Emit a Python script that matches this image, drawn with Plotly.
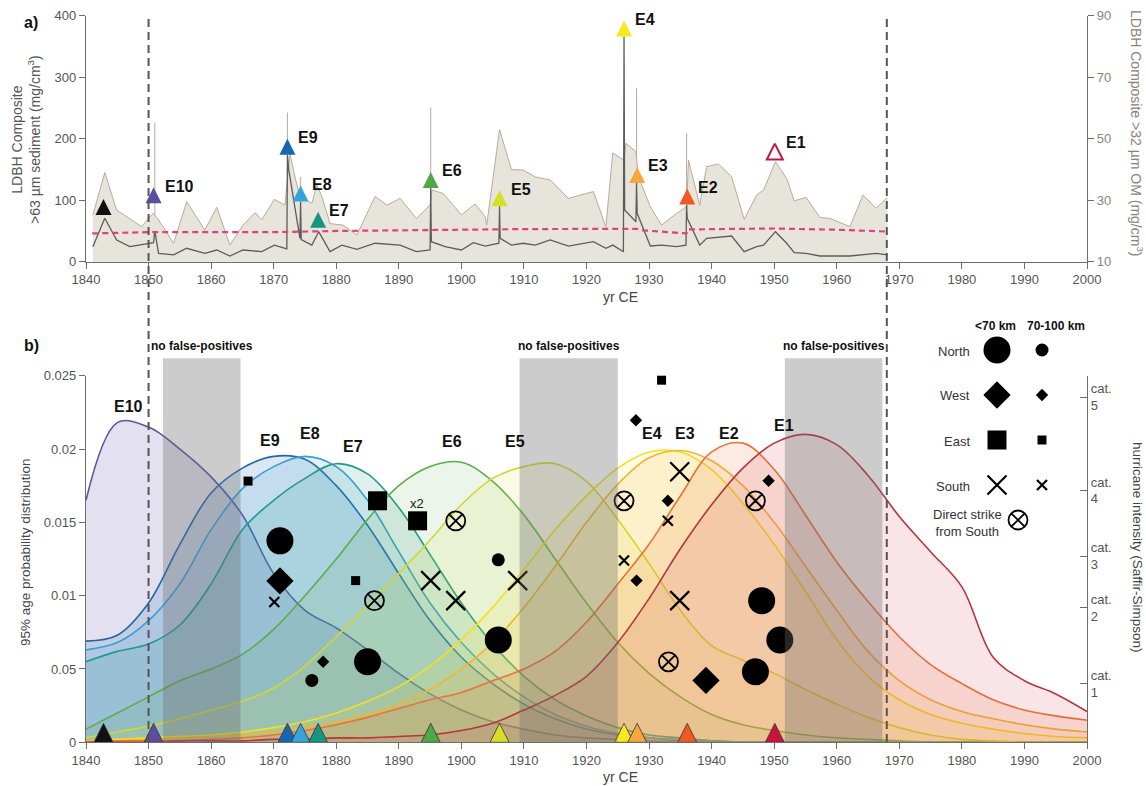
import plotly.graph_objects as go
import numpy as np

W, H = 1146, 786
FONT = "Liberation Sans, Arial, sans-serif"

# ---------------- panel a) data ----------------
om_years = [1841.1, 1843.0, 1844.9, 1848.9, 1850.0, 1850.7, 1851.6, 1854.0, 1856.1, 1859.0,
            1860.9, 1863.0, 1865.1, 1867.0, 1868.1, 1870.1, 1871.8, 1872.6, 1873.4, 1874.2,
            1876.1, 1876.9, 1877.7, 1879.0, 1881.1, 1883.3, 1886.2, 1888.1, 1890.2, 1892.8,
            1895.0, 1895.3, 1897.1, 1900.0, 1902.2, 1903.8, 1904.05, 1906.1, 1908.0, 1909.9,
            1911.8, 1914.2, 1917.1, 1919.0, 1921.1, 1923.1, 1924.2, 1926.0, 1926.3, 1927.9,
            1928.3, 1930.2, 1932.0, 1934.4, 1936.0, 1936.3, 1937.3, 1938.1, 1939.2, 1941.1,
            1943.2, 1945.2, 1947.2, 1948.3, 1950.2, 1952.0, 1953.2, 1955.1, 1957.3, 1958.9,
            1962.1, 1964.2, 1966.3, 1968.1]
om_vals = [25.2, 39.0, 26.8, 21.4, 24.1, 25.7, 23.6, 16.0, 29.5, 20.3,
           27.7, 15.4, 21.9, 25.9, 23.6, 30.3, 28.4, 45.2, 37.6, 31.2,
           29.0, 35.0, 31.2, 22.4, 21.9, 18.7, 31.2, 28.4, 30.6, 24.1,
           28.4, 33.3, 32.2, 25.2, 28.8, 24.6, 21.9, 53.0, 40.0, 39.8,
           37.6, 36.6, 30.6, 31.7, 32.8, 21.4, 45.4, 43.0, 48.5, 45.8,
           37.6, 27.9, 21.9, 25.7, 27.9, 43.0, 35.4, 28.4, 40.9, 41.8,
           37.6, 23.8, 31.7, 33.3, 42.5, 37.1, 29.8, 30.9, 24.4, 24.1,
           21.4, 31.7, 27.4, 30.9]
om_spike_years = [1851.0, 1872.2, 1874.3, 1895.1, 1928.0, 1936.0]
om_spike_tops = [55.2, 58.5, 37.6, 60.2, 66.4, 51.8]

sed_years = [1841.1, 1843.0, 1844.9, 1847.0, 1850.8, 1851.0, 1851.6, 1854.0, 1856.1, 1859.0,
             1860.9, 1863.0, 1865.1, 1868.1, 1870.1, 1872.1, 1872.2, 1872.4, 1874.2, 1874.3,
             1874.4, 1876.1, 1877.2, 1879.0, 1880.9, 1883.3, 1886.2, 1890.2, 1892.8, 1895.0,
             1895.1, 1895.2, 1897.4, 1900.0, 1901.9, 1903.8, 1906.0, 1906.1, 1906.2, 1908.0,
             1909.9, 1911.8, 1914.2, 1917.1, 1921.1, 1923.1, 1924.2, 1925.9, 1926.0, 1926.1,
             1927.9, 1928.0, 1928.1, 1930.2, 1932.0, 1934.4, 1935.9, 1936.0, 1936.1, 1938.1,
             1939.2, 1943.2, 1945.2, 1947.2, 1948.3, 1950.2, 1952.0, 1953.2, 1955.1, 1957.3,
             1962.1, 1964.2, 1966.3, 1968.1]
sed_vals = [24.4, 70.6, 35.3, 24.4, 31.0, 50.0, 13.6, 11.0, 21.8, 13.6,
            19.0, 9.3, 19.0, 16.3, 27.0, 21.0, 174.0, 150.0, 38.0, 98.0,
            36.0, 27.0, 48.8, 16.3, 27.0, 20.0, 30.0, 27.0, 16.3, 19.0,
            120.0, 32.5, 24.4, 19.0, 31.0, 25.5, 30.0, 90.0, 38.0, 27.0,
            30.0, 27.0, 35.3, 25.5, 32.5, 21.8, 27.0, 16.3, 366.0, 84.0,
            65.0, 128.0, 78.7, 25.5, 27.0, 24.4, 27.0, 92.0, 70.6, 27.0,
            38.0, 41.8, 16.3, 24.4, 27.0, 48.8, 30.0, 14.6, 13.6, 9.3,
            9.3, 11.0, 13.6, 11.0]

thr_years = [1841, 1850, 1860, 1870, 1880, 1890, 1900, 1910, 1920, 1926, 1928, 1929,
             1936, 1936.2, 1945, 1950, 1960, 1968]
thr_vals = [46, 48, 48, 48, 50, 51.5, 52, 53, 53, 54, 53.5, 51,
            46, 52.5, 53, 54, 52, 49]

event_names = ["", "E10", "E9", "E8", "E7", "E6", "E5", "E4", "E3", "E2", "E1"]
event_years = [1842.8, 1850.8, 1872.2, 1874.3, 1877.1, 1895.1, 1906.1, 1926.0, 1928.1, 1936.1, 1950.1]
event_top_base = [76, 95, 174, 98, 55, 120, 90, 366, 128, 93, 166]
event_colors = ["#111111", "#5b4ea0", "#1766b2", "#36a4dc", "#17967e", "#4fa846",
                "#d8de24", "#f7e91c", "#f8a83a", "#f05a22", "#c8143c"]
event_open_top = [False] * 10 + [True]

# ---------------- panel b) data ----------------
pdf_years = list(range(1840, 2001, 5))
e10_pdf = [0.0165, 0.0218, 0.0215, 0.0200, 0.0181, 0.0155, 0.0115, 0.0090, 0.0078, 0.0063, 0.0047,
           0.0033, 0.0022, 0.0014, 0.0009, 0.0005, 0.0003, 0.0002, 0.0001, 0, 0, 0, 0, 0, 0, 0, 0,
           0, 0, 0, 0, 0, 0]
e9_pdf = [0.0069, 0.0073, 0.0095, 0.0135, 0.0170, 0.0187, 0.0195, 0.0193, 0.0175, 0.0148, 0.0115,
          0.0083, 0.0058, 0.0040, 0.0026, 0.0016, 0.0009, 0.0005, 0.0003, 0.0001, 0.0001, 0, 0, 0,
          0, 0, 0, 0, 0, 0, 0, 0, 0]
e8_pdf = [0.0063, 0.0068, 0.0083, 0.0108, 0.0145, 0.0173, 0.0188, 0.0195, 0.0188, 0.0165, 0.0130,
          0.0095, 0.0068, 0.0047, 0.0031, 0.0019, 0.0011, 0.0006, 0.0003, 0.0002, 0.0001, 0, 0, 0,
          0, 0, 0, 0, 0, 0, 0, 0, 0]
e7_pdf = [0.0055, 0.0062, 0.0067, 0.0080, 0.0108, 0.0145, 0.0165, 0.0180, 0.0190, 0.0183, 0.0160,
          0.0128, 0.0095, 0.0067, 0.0045, 0.0029, 0.0018, 0.0010, 0.0005, 0.0003, 0.0001, 0, 0, 0,
          0, 0, 0, 0, 0, 0, 0, 0, 0]
e6_pdf = [0.0009, 0.0020, 0.0031, 0.0042, 0.0050, 0.0060, 0.0077, 0.0100, 0.0125, 0.0152, 0.0175,
          0.0188, 0.0191, 0.0178, 0.0155, 0.0125, 0.0095, 0.0068, 0.0047, 0.0031, 0.0019, 0.0012,
          0.0008, 0.0005, 0.0003, 0.0002, 0.0001, 0, 0, 0, 0, 0, 0]
e5_pdf = [0.0003, 0.0007, 0.0011, 0.0016, 0.0022, 0.0028, 0.0037, 0.0052, 0.0072, 0.0093, 0.0115,
          0.0138, 0.0162, 0.0180, 0.0188, 0.0190, 0.0178, 0.0152, 0.0122, 0.0090, 0.0066, 0.0056,
          0.0047, 0.0036, 0.0026, 0.0017, 0.0010, 0.0005, 0.0002, 0.0001, 0, 0, 0]
e4_pdf = [0.0001, 0.0002, 0.0003, 0.0004, 0.0005, 0.0007, 0.0010, 0.0014, 0.0020, 0.0028, 0.0038,
          0.0052, 0.0070, 0.0092, 0.0118, 0.0145, 0.0168, 0.0187, 0.0198, 0.0198, 0.0186, 0.0163,
          0.0135, 0.0103, 0.0070, 0.0045, 0.0029, 0.0019, 0.0013, 0.0009, 0.0006, 0.0004, 0.0003]
e3_pdf = [0.0001, 0.0001, 0.0002, 0.0003, 0.0004, 0.0005, 0.0007, 0.0010, 0.0014, 0.0019, 0.0026,
          0.0036, 0.0050, 0.0068, 0.0092, 0.0120, 0.0150, 0.0176, 0.0194, 0.0199, 0.0192, 0.0175,
          0.0150, 0.0120, 0.0090, 0.0062, 0.0042, 0.0029, 0.0021, 0.0016, 0.0012, 0.0009, 0.0007]
e2_pdf = [0.0000, 0.0001, 0.0001, 0.0001, 0.0002, 0.0003, 0.0005, 0.0008, 0.0012, 0.0017, 0.0023,
          0.0029, 0.0034, 0.0042, 0.0050, 0.0062, 0.0082, 0.0108, 0.0135, 0.0168, 0.0198, 0.0204,
          0.0186, 0.0155, 0.0123, 0.0096, 0.0072, 0.0053, 0.0040, 0.0029, 0.0022, 0.0018, 0.0015]
e1_pdf = [0.0000, 0.0000, 0.0000, 0.0001, 0.0001, 0.0001, 0.0002, 0.0002, 0.0003, 0.0003, 0.0004,
          0.0005, 0.0008, 0.0013, 0.0022, 0.0032, 0.0045, 0.0068, 0.0098, 0.0132, 0.0162, 0.0187,
          0.0204, 0.0210, 0.0203, 0.0182, 0.0154, 0.0130, 0.0106, 0.0058, 0.0042, 0.0033, 0.0021]

pdf_series = [e10_pdf, e9_pdf, e8_pdf, e7_pdf, e6_pdf, e5_pdf, e4_pdf, e3_pdf, e2_pdf, e1_pdf]
pdf_line_colors = ["#5b55a3", "#2166ac", "#3b9fd4", "#1f9b8e", "#5aae4b",
                   "#cfd92e", "#f1e21b", "#f1b532", "#ec7235", "#b8343f"]
pdf_fill_rgb = [(91, 78, 160), (40, 110, 180), (60, 160, 215), (30, 150, 135), (95, 175, 75),
                (215, 222, 50), (245, 228, 40), (245, 175, 55), (238, 120, 55), (215, 80, 95)]
pdf_fill_alpha = [0.17, 0.17, 0.15, 0.14, 0.12, 0.12, 0.12, 0.14, 0.15, 0.15]

pdf_label_years = [1846.8, 1869.4, 1875.8, 1882.7, 1898.5, 1908.6, 1930.4, 1935.7, 1942.7, 1951.5]
pdf_label_vals = [0.02288, 0.0206, 0.02107, 0.02015, 0.0205, 0.0205, 0.02107, 0.02107, 0.02107, 0.02163]

nfp_start = [1852.3, 1909.3, 1951.7]
nfp_end = [1864.7, 1925.0, 1967.3]

# hurricanes: year, wind (mph), direction (N/W/E/S, D = direct strike from south), within 70 km
hurr_year = [1865.9, 1871.0, 1871.0, 1870.1, 1876.1, 1877.9, 1883.1, 1885.0, 1886.1, 1886.6,
             1893.0, 1895.1, 1899.1, 1899.1, 1905.9, 1905.9, 1909.0, 1926.0, 1926.0, 1927.9,
             1928.0, 1932.0, 1933.0, 1933.0, 1933.1, 1934.9, 1934.9, 1939.1, 1947.0, 1949.1,
             1948.0, 1950.9, 1947.0]
hurr_mph = [132.7, 115.4, 103.8, 97.7, 75.0, 80.4, 103.9, 80.4, 98.1, 127.0,
            121.2, 103.9, 121.2, 98.1, 109.9, 86.7, 103.9, 127.0, 109.7, 150.3,
            103.9, 161.9, 127.0, 121.2, 80.4, 135.4, 98.1, 75.0, 127.0, 132.8,
            98.1, 86.7, 77.5]
hurr_dir = ["E", "N", "W", "S", "N", "W", "E", "N", "D", "E",
            "E", "S", "D", "S", "N", "N", "S", "D", "S", "W",
            "W", "E", "W", "S", "D", "S", "S", "W", "D", "W",
            "N", "N", "N"]
hurr_near = [False, True, True, False, False, False, False, True, True, True,
             True, True, True, True, False, True, True, True, False, False,
             False, False, False, False, True, True, True, True, True, False,
             True, True, True]
x2_year, x2_mph = 1893.0, 121.2

cat_mph = [74, 96, 111, 130, 157]
cat_labels = ["cat.<br>1", "cat.<br>2", "cat.<br>3", "cat.<br>4", "cat.<br>5"]

legend_rows = ["North", "West", "East", "South"]
legend_dirs = ["N", "W", "E", "S"]

# ---------------- geometry ----------------
def ppx(px):
    return px / W

def ppy(py):
    return 1 - py / H

X_DOM = [ppx(86), ppx(1087)]
TOP_DOM = [ppy(261.7), ppy(15.7)]
BOT_DOM = [ppy(742.3), ppy(375.7)]
TOP_PPU = (TOP_DOM[1] - TOP_DOM[0]) * H / 400.0
BOT_PPU = (BOT_DOM[1] - BOT_DOM[0]) * H / 0.025

SYM = {"N": "circle", "W": "diamond", "E": "square", "S": "x-thin", "D": "circle-x-open"}
SIZE = {("N", True): 27, ("N", False): 13, ("W", True): 21, ("W", False): 9.5,
        ("E", True): 19, ("E", False): 9, ("S", True): 19, ("S", False): 10,
        ("D", True): 19, ("D", False): 19}
LW = {"N": 0, "W": 0, "E": 0, "S": 2.2, "D": 1.8}

fig = go.Figure()

# ---- panel a ---- (y = OM axis on the right, y2 = sediment axis on the left, drawn above)
fig.add_trace(go.Scatter(x=om_years, y=om_vals, xaxis="x", yaxis="y", mode="lines",
                         fill="tozeroy", fillcolor="#e7e4dc",
                         line=dict(color="#b9aa9c", width=1), hoverinfo="skip"))
sx, sy = [], []
for yr, top in zip(om_spike_years, om_spike_tops):
    sx += [yr, yr, None]
    sy += [float(np.interp(yr, om_years, om_vals)), top, None]
fig.add_trace(go.Scatter(x=sx, y=sy, xaxis="x", yaxis="y", mode="lines",
                         line=dict(color="#b9aa9c", width=1), hoverinfo="skip"))
fig.add_trace(go.Scatter(x=sed_years, y=sed_vals, xaxis="x", yaxis="y2", mode="lines",
                         line=dict(color="#5c5c5c", width=1.3), hoverinfo="skip"))
fig.add_trace(go.Scatter(x=thr_years, y=thr_vals, xaxis="x", yaxis="y2", mode="lines",
                         line=dict(color="#e2407e", width=2.2, dash="6px,4px"), hoverinfo="skip"))

TRI_TOP = 16
for i in range(len(event_years)):
    apex = event_top_base[i] + TRI_TOP / TOP_PPU
    if event_open_top[i]:
        mk = dict(symbol="arrow-up", size=TRI_TOP, color="white",
                  line=dict(color=event_colors[i], width=2))
    else:
        mk = dict(symbol="arrow-up", size=TRI_TOP, color=event_colors[i], line=dict(width=0))
    fig.add_trace(go.Scatter(x=[event_years[i]], y=[apex], xaxis="x", yaxis="y2",
                             mode="markers", marker=mk, cliponaxis=False, hoverinfo="skip"))

# ---- panel b ----
for i, ser in enumerate(pdf_series):
    r, g, b = pdf_fill_rgb[i]
    fig.add_trace(go.Scatter(x=pdf_years, y=ser, xaxis="x2", yaxis="y3", mode="lines",
                             line=dict(color=pdf_line_colors[i], width=1.6, shape="spline",
                                       smoothing=1.0),
                             fill="tozeroy", fillcolor=f"rgba({r},{g},{b},{pdf_fill_alpha[i]})",
                             hoverinfo="skip"))

TRI_BOT = 19
fig.add_trace(go.Scatter(x=event_years, y=[TRI_BOT / BOT_PPU] * len(event_years),
                         xaxis="x2", yaxis="y3", mode="markers", cliponaxis=False,
                         marker=dict(symbol="arrow-up", size=TRI_BOT, color=event_colors,
                                     line=dict(color="#333333", width=0.8)),
                         hoverinfo="skip"))

groups = {}
for yr, w, d, n in zip(hurr_year, hurr_mph, hurr_dir, hurr_near):
    groups.setdefault((d, n), ([], []))
    groups[(d, n)][0].append(yr)
    groups[(d, n)][1].append(w)
for (d, n), (xs, ys) in groups.items():
    fig.add_trace(go.Scatter(x=xs, y=ys, xaxis="x2", yaxis="y4", mode="markers",
                             cliponaxis=False,
                             marker=dict(symbol=SYM[d], size=SIZE[(d, n)], color="black",
                                         line=dict(color="black", width=LW[d])),
                             hoverinfo="skip"))

# ---- legend (pixel overlay axes) ----
LEG_X = [997, 1042]
for i, d in enumerate(legend_dirs):
    yy = 350 + i * 45
    for j, near in enumerate([True, False]):
        fig.add_trace(go.Scatter(x=[LEG_X[j]], y=[yy], xaxis="x3", yaxis="y5", mode="markers",
                                 cliponaxis=False,
                                 marker=dict(symbol=SYM[d], size=SIZE[(d, near)], color="black",
                                             line=dict(color="black", width=LW[d])),
                                 hoverinfo="skip"))
fig.add_trace(go.Scatter(x=[1018], y=[520], xaxis="x3", yaxis="y5", mode="markers",
                         cliponaxis=False,
                         marker=dict(symbol="circle-x-open", size=19, color="black",
                                     line=dict(color="black", width=1.8)),
                         hoverinfo="skip"))

# ---------------- annotations ----------------
ann = []
def txt(x, y, s, size=13, bold=False, color="#222", xref="paper", yref="paper",
        xanchor="center", yanchor="middle", angle=0, **kw):
    if bold:
        s = "<b>" + s + "</b>"
    ann.append(dict(x=x, y=y, text=s, xref=xref, yref=yref, showarrow=False,
                    xanchor=xanchor, yanchor=yanchor, textangle=angle,
                    font=dict(family=FONT, size=size, color=color), **kw))

txt(ppx(22), ppy(23), "a)", size=16, bold=True, xanchor="left", color="#111")
txt(ppx(22), ppy(345), "b)", size=16, bold=True, xanchor="left", color="#111")

for i in range(1, len(event_years)):
    center = event_top_base[i] + (TRI_TOP / 2) / TOP_PPU
    txt(event_years[i], center, event_names[i], size=16, bold=True, xref="x", yref="y2",
        xanchor="left", color="#111", xshift=9, yshift=9)

for i, name in enumerate(event_names[1:]):
    txt(pdf_label_years[i], pdf_label_vals[i], name, size=16, bold=True, xref="x2", yref="y3",
        color="#111")

for a, b in zip(nfp_start, nfp_end):
    txt((a + b) / 2, ppy(346), "no false-positives", size=12, bold=True, xref="x2", color="#111")

txt(x2_year, x2_mph, "x2", size=13, xref="x2", yref="y4", color="#222", xshift=-1, yshift=17)

txt(ppx(26), ppy(140), "LDBH Composite<br>>63 µm sediment (mg/cm<sup>3</sup>)", size=14,
    angle=-90, color="#555")
txt(ppx(1137), ppy(133), "LDBH Composite >32 µm OM (mg/cm<sup>3</sup>)", size=14, angle=90,
    color="#8d8279")
txt(ppx(25), ppy(552), "95% age probability distribution", size=13.5, angle=-90,
    color="#444")
txt(ppx(1138), ppy(547), "hurricane intensity (Saffir-Simpson)", size=13.5, angle=90,
    color="#444")
txt(ppx(620), ppy(297), "yr CE", size=14, color="#444")
txt(ppx(620), ppy(777), "yr CE", size=14, color="#444")

txt(ppx(995), ppy(326), "&lt;70 km", size=12, bold=True, color="#111")
txt(ppx(1056), ppy(326), "70-100 km", size=12, bold=True, color="#111")
for i, lab in enumerate(legend_rows):
    txt(ppx(972), ppy(351 + i * 45), lab, size=13, xanchor="right", color="#333")
txt(ppx(967), ppy(523), "Direct strike<br>from South", size=13, color="#333")

# ---------------- shapes ----------------
shapes = []
for a, b in zip(nfp_start, nfp_end):
    shapes.append(dict(type="rect", xref="x2", yref="paper", x0=a, x1=b,
                       y0=ppy(742.3), y1=ppy(358.3), fillcolor="rgba(110,110,110,0.35)",
                       line=dict(width=0), layer="above"))
for xv in [1850, 1968]:
    shapes.append(dict(type="line", xref="x", yref="paper", x0=xv, x1=xv,
                       y0=ppy(742), y1=ppy(15), line=dict(color="#555555", width=2,
                                                           dash="8px,5px"), layer="above"))

# ---------------- axes ----------------
tickfont = dict(family=FONT, size=13, color="#555")
axis_common = dict(showgrid=False, zeroline=False, showline=True, linecolor="#6d6d6d",
                   linewidth=1.2, ticks="outside", ticklen=6, tickcolor="#6d6d6d",
                   tickfont=tickfont, automargin=False)

fig.update_layout(
    width=W, height=H, margin=dict(l=0, r=0, t=0, b=0, autoexpand=False),
    paper_bgcolor="white", plot_bgcolor="rgba(0,0,0,0)", showlegend=False,
    xaxis=dict(domain=X_DOM, range=[1840, 2000], anchor="y",
               tickvals=list(range(1840, 2001, 10)), **axis_common),
    yaxis=dict(domain=TOP_DOM, range=[10, 90], anchor="x", side="right",
               tickvals=[10, 30, 50, 70, 90],
               **{**axis_common, "tickfont": dict(family=FONT, size=13, color="#8d8279")}),
    yaxis2=dict(overlaying="y", side="left", anchor="x", range=[0, 400],
                tickvals=[0, 100, 200, 300, 400], **axis_common),
    xaxis2=dict(domain=X_DOM, range=[1840, 2000], anchor="y3",
                tickvals=list(range(1840, 2001, 10)), **axis_common),
    yaxis3=dict(domain=BOT_DOM, range=[0, 0.025], anchor="x2",
                tickvals=[0, 0.005, 0.01, 0.015, 0.02, 0.025],
                ticktext=["0", "0.05", "0.01", "0.015", "0.02", "0.025"], **axis_common),
    yaxis4=dict(overlaying="y3", side="right", anchor="x2", range=[57.1, 163.2],
                tickvals=cat_mph, ticktext=cat_labels,
                **{**axis_common, "ticks": "inside", "ticklen": 7}),
    xaxis3=dict(domain=[0, 1], range=[0, W], anchor="y5", visible=False, automargin=False),
    yaxis5=dict(domain=[0, 1], range=[H, 0], anchor="x3", visible=False, automargin=False),
    annotations=ann, shapes=shapes,
)

fig.write_html("out.html")
